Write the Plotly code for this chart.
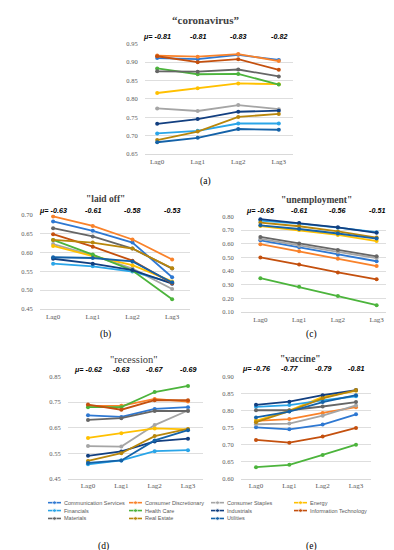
import plotly.graph_objects as go

lags = ["Lag0", "Lag1", "Lag2", "Lag3"]
sectors = ["Communication Services", "Consumer Discretionary", "Consumer Staples", "Energy",
           "Financials", "Health Care", "Industrials", "Information Technology",
           "Materials", "Real Estate", "Utilities"]
colors = ["#2E78D2", "#F9822A", "#A5A5A5", "#FFC000", "#2AA5E8", "#4CB43C",
          "#123F80", "#C4500E", "#666666", "#B8860B", "#1462A8"]

coronavirus = [
    [0.911, 0.908, 0.920, 0.906],
    [0.918, 0.915, 0.922, 0.903],
    [0.774, 0.767, 0.783, 0.772],
    [0.816, 0.829, 0.842, 0.840],
    [0.706, 0.713, 0.733, 0.733],
    [0.883, 0.867, 0.868, 0.839],
    [0.732, 0.745, 0.765, 0.768],
    [0.916, 0.900, 0.908, 0.879],
    [0.875, 0.874, 0.880, 0.861],
    [0.688, 0.711, 0.751, 0.759],
    [0.682, 0.694, 0.718, 0.716],
]
laid_off = [
    [0.682, 0.657, 0.626, 0.534],
    [0.695, 0.670, 0.634, 0.581],
    [0.622, 0.592, 0.557, 0.503],
    [0.617, 0.590, 0.566, 0.523],
    [0.570, 0.563, 0.549, 0.520],
    [0.633, 0.594, 0.552, 0.476],
    [0.583, 0.570, 0.553, 0.517],
    [0.648, 0.615, 0.578, 0.518],
    [0.664, 0.642, 0.610, 0.557],
    [0.633, 0.626, 0.610, 0.558],
    [0.587, 0.585, 0.576, 0.520],
]
unemployment = [
    [0.625, 0.575, 0.520, 0.472],
    [0.597, 0.545, 0.490, 0.437],
    [0.635, 0.585, 0.540, 0.495],
    [0.730, 0.700, 0.665, 0.620],
    [0.770, 0.748, 0.718, 0.685],
    [0.348, 0.285, 0.217, 0.150],
    [0.780, 0.752, 0.720, 0.680],
    [0.500, 0.448, 0.390, 0.340],
    [0.650, 0.602, 0.555, 0.508],
    [0.755, 0.728, 0.690, 0.645],
    [0.735, 0.708, 0.675, 0.638],
]
recession = [
    [0.698, 0.692, 0.723, 0.730],
    [0.735, 0.735, 0.762, 0.752],
    [0.578, 0.576, 0.660, 0.717],
    [0.610, 0.628, 0.647, 0.643],
    [0.507, 0.522, 0.558, 0.562],
    [0.730, 0.730, 0.789, 0.813],
    [0.540, 0.557, 0.596, 0.607],
    [0.740, 0.720, 0.757, 0.757],
    [0.680, 0.687, 0.715, 0.715],
    [0.520, 0.550, 0.617, 0.645],
    [0.512, 0.522, 0.600, 0.640],
]
vaccine = [
    [0.751, 0.745, 0.759, 0.789],
    [0.770, 0.775, 0.793, 0.810],
    [0.760, 0.762, 0.785, 0.815],
    [0.770, 0.800, 0.840, 0.858],
    [0.811, 0.816, 0.830, 0.842],
    [0.634, 0.641, 0.670, 0.700],
    [0.817, 0.826, 0.845, 0.860],
    [0.714, 0.706, 0.724, 0.749],
    [0.801, 0.801, 0.812, 0.825],
    [0.766, 0.798, 0.836, 0.860],
    [0.780, 0.797, 0.825, 0.845],
]

mu_coronavirus = ["-0.81", "-0.81", "-0.83", "-0.82"]
mu_laid_off = ["-0.63", "-0.61", "-0.58", "-0.53"]
mu_unemployment = ["-0.65", "-0.61", "-0.56", "-0.51"]
mu_recession = ["-0.62", "-0.63", "-0.67", "-0.69"]
mu_vaccine = ["-0.76", "-0.77", "-0.79", "-0.81"]

W, H = 394, 550


def px_y(p):
    return 1 - p / H


def px_x(p):
    return p / W


panels = [
    dict(data=coronavirus, mu=mu_coronavirus, title="\u201ccoronavirus\u201d", tsize=11, tbold=True,
         xd=(137, 285), yd=(32, 144), xr=[-0.3, 3.35], yr=[0.65, 0.95], dt=0.05,
         ttl=(198, 8), mur=25, cap="(a)", capxy=(197, 172)),
    dict(data=laid_off, mu=mu_laid_off, title="\"laid off\"", tsize=9.5, tbold=True,
         xd=(32, 182), yd=(205, 301), xr=[-0.33, 3.45], yr=[0.45, 0.70], dt=0.05,
         ttl=(97, 189), mur=201, cap="(b)", capxy=(97, 327)),
    dict(data=unemployment, mu=mu_unemployment, title="\"unemployment\"", tsize=9.5, tbold=True,
         xd=(233, 388), yd=(207, 304), xr=[-0.5, 3.5], yr=[0.10, 0.80], dt=0.1,
         ttl=(308, 190), mur=201, cap="(c)", capxy=(303, 327)),
    dict(data=recession, mu=mu_recession, title="\"recession\"", tsize=10.5, tbold=False,
         xd=(60, 195), yd=(369, 473), xr=[-0.6, 3.45], yr=[0.45, 0.85], dt=0.1,
         ttl=(126, 352), mur=362, cap="(d)", capxy=(95, 541)),
    dict(data=vaccine, mu=mu_vaccine, title="\"vaccine\"", tsize=9.5, tbold=True,
         xd=(233, 363), yd=(369, 473), xr=[-0.45, 3.45], yr=[0.60, 0.90], dt=0.05,
         ttl=(292, 351), mur=361, cap="(e)", capxy=(303, 541)),
]

fig = go.Figure()
annotations = []
layout_axes = {}
serif = "Liberation Serif"
sans = "Liberation Sans"
tickcol = "#595959"

for k, p in enumerate(panels):
    idx = k + 1
    xa = "x" if idx == 1 else f"x{idx}"
    ya = "y" if idx == 1 else f"y{idx}"
    for s, name in enumerate(sectors):
        fig.add_trace(go.Scatter(
            x=list(range(len(lags))), y=p["data"][s], mode="lines+markers",
            name=name, line=dict(color=colors[s], width=1.8),
            marker=dict(color=colors[s], size=4), xaxis=xa, yaxis=ya,
            showlegend=False))
    xkey = "xaxis" if idx == 1 else f"xaxis{idx}"
    ykey = "yaxis" if idx == 1 else f"yaxis{idx}"
    layout_axes[xkey] = dict(
        domain=[px_x(p["xd"][0]), px_x(p["xd"][1])], range=p["xr"], anchor=ya,
        tickvals=list(range(len(lags))), ticktext=lags, showgrid=False, zeroline=False,
        showline=True, linecolor="#D9D9D9", linewidth=1,
        tickfont=dict(family=serif, size=7, color=tickcol), ticks="")
    layout_axes[ykey] = dict(
        domain=[px_y(p["yd"][1]), px_y(p["yd"][0])],
        range=[p["yr"][0] - 0.0005, p["yr"][1] + 0.0005], anchor=xa,
        dtick=p["dt"], tick0=p["yr"][0], tickformat=".2f", showgrid=True,
        gridcolor="#DEDEDE", gridwidth=1, zeroline=False, showline=False,
        ticks="outside", ticklen=5, tickcolor="rgba(0,0,0,0)",
        tickfont=dict(family=serif, size=6.5, color=tickcol))
    t = p["title"]
    if p["tbold"]:
        t = "<b>" + t + "</b>"
    annotations.append(dict(text=t, x=px_x(p["ttl"][0]), y=px_y(p["ttl"][1]),
                            xref="paper", yref="paper", showarrow=False,
                            xanchor="center", yanchor="middle",
                            font=dict(family=serif, size=p["tsize"], color="#404040")))
    for j, m in enumerate(p["mu"]):
        label = ("\u03bc= " + m) if j == 0 else m
        annotations.append(dict(text="<b><i>" + label + "</i></b>", x=j, y=px_y(p["mur"]),
                                xref=xa, yref="paper", showarrow=False,
                                xanchor="center", yanchor="middle",
                                font=dict(family=sans, size=7.2, color="#000000")))
    annotations.append(dict(text=p["cap"], x=px_x(p["capxy"][0]), y=px_y(p["capxy"][1]),
                            xref="paper", yref="paper", showarrow=False,
                            xanchor="center", yanchor="middle",
                            font=dict(family=serif, size=9.5, color="#000000")))

# compact legend drawn on a hidden pixel-unit axis
leg_cols = [40, 121, 203, 286]
leg_rows = [497, 505, 513]
for s, name in enumerate(sectors):
    cx = leg_cols[s % 4]
    cy = leg_rows[s // 4]
    fig.add_trace(go.Scatter(
        x=[cx, cx + 6.5, cx + 13], y=[cy, cy, cy], mode="lines+markers",
        line=dict(color=colors[s], width=1.6),
        marker=dict(color=colors[s], size=[0, 4, 0]),
        xaxis="x6", yaxis="y6", showlegend=False, hoverinfo="skip"))
    annotations.append(dict(text=name, x=cx + 14, y=cy, xref="x6", yref="y6",
                            showarrow=False, xanchor="left", yanchor="middle",
                            font=dict(family=sans, size=5.5, color="#595959")))

layout_axes["xaxis6"] = dict(domain=[0, 1], range=[0, W], visible=False, anchor="y6", fixedrange=True)
layout_axes["yaxis6"] = dict(domain=[0, 1], range=[H, 0], visible=False, anchor="x6", fixedrange=True)

fig.update_layout(
    width=W, height=H, margin=dict(l=0, r=0, t=0, b=0),
    paper_bgcolor="white", plot_bgcolor="rgba(0,0,0,0)",
    showlegend=False, annotations=annotations, **layout_axes)

fig.write_html("out.html")
